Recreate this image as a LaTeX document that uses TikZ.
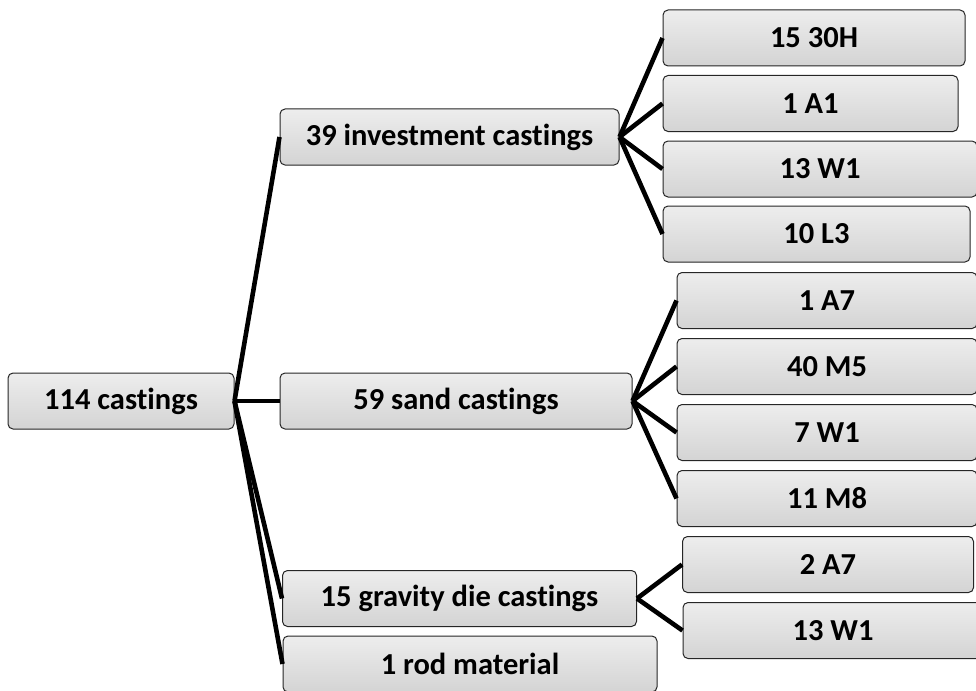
\documentclass[tikz,border=0pt]{standalone}
\usepackage{fontspec}
\setmainfont[Ligatures=NoCommon]{Carlito}
\begin{document}
\begin{tikzpicture}[
    x=1pt, y=-1pt,
    box/.style={rectangle, rounded corners=5pt, draw=black!85, line width=1pt,
        top color=gray!14, bottom color=gray!34, inner sep=0pt,
        minimum height=56pt, font=\fontsize{30.5}{36}\selectfont\bfseries},
    link/.style={draw, line width=4.6pt}
]
\useasboundingbox (0,0) rectangle (976,690);
% first level
\node[box, minimum width=226pt] (root) at (121,401) {114 castings};
\node[box, minimum width=339pt] (inv) at (449.5,137) {39 investment castings};
\node[box, minimum width=352pt] (sand) at (456,401) {59 sand castings};
\node[box, minimum width=354pt] (grav) at (459.5,598.5) {15 gravity die castings};
\node[box, minimum width=374pt] (rod) at (470,664) {1 rod material};
% investment castings
\node[box, minimum width=302pt] (i1) at (814,38) {15 30H};
\node[box, minimum width=295pt] (i2) at (810.5,103.5) {1 A1};
\node[box, minimum width=314pt] (i3) at (820,169) {13 W1};
\node[box, minimum width=307pt] (i4) at (816.5,234) {10 L3};
% sand castings
\node[box, minimum width=300pt] (s1) at (827,300.5) {1 A7};
\node[box, minimum width=300pt] (s2) at (827,366.5) {40 M5};
\node[box, minimum width=300pt] (s3) at (827,432.5) {7 W1};
\node[box, minimum width=300pt] (s4) at (827,498.5) {11 M8};
% gravity die castings
\node[box, minimum width=291pt] (g1) at (828,564.5) {2 A7};
\node[box, minimum width=300pt] (g2) at (833,630.5) {13 W1};
\foreach \a/\b in {root/inv, root/sand, root/grav, root/rod,
    inv/i1, inv/i2, inv/i3, inv/i4,
    sand/s1, sand/s2, sand/s3, sand/s4,
    grav/g1, grav/g2}
  \draw[link] (\a.east) -- (\b.west);
\end{tikzpicture}
\end{document}
